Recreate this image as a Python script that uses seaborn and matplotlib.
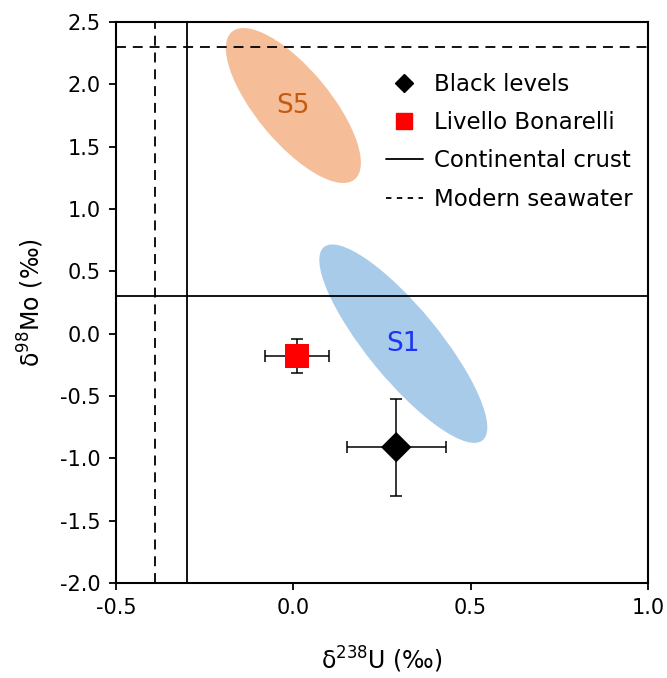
import numpy as np
import pandas as pd
import seaborn as sns
import matplotlib
matplotlib.use("Agg")
import matplotlib.pyplot as plt
from matplotlib.patches import Ellipse
from matplotlib.transforms import ScaledTranslation
from matplotlib.lines import Line2D

# ---- data ----
samples = ["Black levels", "Livello Bonarelli"]
u238 = [0.29, 0.01]
mo98 = [-0.91, -0.18]
u238_err = [0.14, 0.09]
mo98_err = [0.39, 0.137]

crust_u = -0.30
crust_mo = 0.30
seawater_u = -0.39
seawater_mo = 2.30

field_names = ["S5", "S1"]
field_u = [0.0, 0.31]
field_mo = [1.83, -0.08]

x_ticks = [-0.5, 0.0, 0.5, 1.0]
y_ticks = [-2.0, -1.5, -1.0, -0.5, 0.0, 0.5, 1.0, 1.5, 2.0, 2.5]

# ---- styles ----
field_colors = ["#F6BE98", "#A9CBEA"]
field_text_colors = ["#C55A11", "#1A35F5"]
field_w_in = [1.92, 2.50]
field_h_in = [0.735, 0.715]
field_angle = [-50.3, -50.6]

sns.set_style("white")
plt.rcParams['font.family'] = ['DejaVu Sans']
plt.rcParams['text.color'] = 'black'
plt.rcParams['axes.labelcolor'] = 'black'
plt.rcParams['xtick.color'] = 'black'
plt.rcParams['ytick.color'] = 'black'

fig = plt.figure(figsize=(6.67, 6.78), dpi=100)
ax = fig.add_axes([0.174, 0.140, 0.7975, 0.8276])
ax.set_xlim(-0.5, 1.0)
ax.set_ylim(-2.0, 2.5)

# fields (ellipses)
for name, cx, cy, c, tc, w, h, a in zip(field_names, field_u, field_mo, field_colors,
                                        field_text_colors, field_w_in, field_h_in, field_angle):
    tr = fig.dpi_scale_trans + ScaledTranslation(cx, cy, ax.transData)
    e = Ellipse((0, 0), w, h, angle=a, transform=tr, facecolor=c, edgecolor="none", zorder=1)
    ax.add_patch(e)
    ax.text(cx, cy, name, color=tc, fontsize=19, ha="center", va="center", zorder=2)

# reference lines
ax.axvline(crust_u, color="black", lw=1.3, zorder=3)
ax.axhline(crust_mo, color="black", lw=1.3, zorder=3)
ax.axvline(seawater_u, color="black", lw=1.3, ls=(0, (5.5, 3.8)), zorder=3)
ax.axhline(seawater_mo, color="black", lw=1.3, ls=(0, (5.5, 3.8)), zorder=3)

# error bars
ax.errorbar(u238, mo98, xerr=u238_err, yerr=mo98_err, fmt="none", ecolor="black",
            elinewidth=1.1, capsize=4, capthick=1.1, zorder=4)

df = pd.DataFrame({"sample": samples, "u238": u238, "mo98": mo98})
sns.scatterplot(data=df, x="u238", y="mo98", hue="sample", style="sample",
                markers={"Black levels": "D", "Livello Bonarelli": "s"},
                palette={"Black levels": "black", "Livello Bonarelli": "#FF0000"},
                ax=ax, legend=False, zorder=5, linewidth=0)
coll = ax.collections[-1]
coll.set_sizes([240, 300])

ax.set_xticks(x_ticks)
ax.set_yticks(y_ticks)
ax.set_xticklabels([f"{v:.1f}" for v in x_ticks])
ax.set_yticklabels([f"{v:.1f}" for v in y_ticks])
ax.tick_params(axis="both", which="both", direction="out", length=5, width=1.3,
               labelsize=15, color="black", labelcolor="black",
               bottom=True, left=True, top=False, right=False, pad=6)
for s in ax.spines.values():
    s.set_color("black")
    s.set_linewidth(1.5)

ax.set_xlabel("δ$^{238}$U (‰)", fontsize=17, labelpad=19)
ax.set_ylabel("δ$^{98}$Mo (‰)", fontsize=17, labelpad=10)

handles = [
    Line2D([], [], marker="D", color="black", ls="none", markersize=9),
    Line2D([], [], marker="s", color="#FF0000", ls="none", markersize=11),
    Line2D([], [], color="black", lw=1.3),
    Line2D([], [], color="black", lw=1.3, ls=(0, (3, 3))),
]
labels = ["Black levels", "Livello Bonarelli", "Continental crust", "Modern seawater"]
ax.legend(handles, labels, loc="upper left", bbox_to_anchor=(0.49, 0.926), frameon=False,
          fontsize=16.5, handlelength=1.6, handletextpad=0.5, labelspacing=0.67,
          borderaxespad=0)

fig.savefig("out.png", dpi=100)
